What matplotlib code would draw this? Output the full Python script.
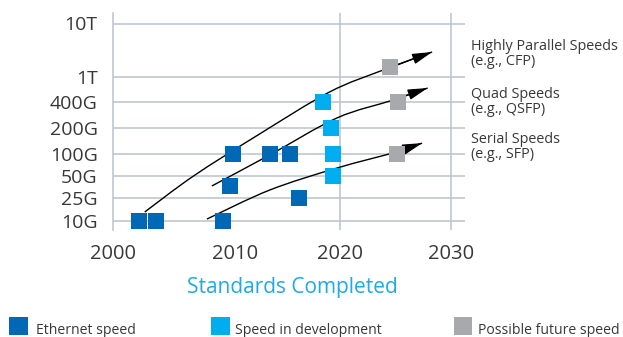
import numpy as np
import matplotlib
matplotlib.use('Agg')
import matplotlib.pyplot as plt
from matplotlib.patches import Rectangle, PathPatch
from matplotlib.path import Path

plt.rcParams['font.family'] = ['Open Sans', 'DejaVu Sans']

# ---------------- data ----------------
y_tick_labels = ['10G', '25G', '50G', '100G', '200G', '400G', '1T', '10T']
y_tick_values = [10, 25, 50, 100, 200, 400, 1000, 10000]          # Gb/s
x_tick_years = [2000, 2010, 2020, 2030]
x_grid_years = [2020, 2030]

eth_years = [2002.1, 2003.5, 2009.0, 2009.6, 2009.8, 2013.3, 2015.2, 2016.1]
eth_speeds = [10, 10, 10, 36, 100, 100, 100, 25]
dev_years = [2018.4, 2019.1, 2019.3, 2019.3]
dev_speeds = [400, 200, 100, 50]
fut_years = [2024.5, 2025.2, 2025.1]
fut_speeds = [1500, 400, 100]

trend_labels = [('Highly Parallel Speeds', '(e.g., CFP)'),
                ('Quad Speeds', '(e.g., QSFP)'),
                ('Serial Speeds', '(e.g., SFP)')]
trend_years = [[2002.6, 2006.6, 2012.2, 2019.0, 2023.9, 2028.3],
               [2008.1, 2013.3, 2019.7, 2024.8, 2027.9],
               [2007.7, 2013.3, 2019.7, 2025.1, 2027.4]]
trend_speeds = [[14.3, 50, 166, 574, 1337, 2911],
                [36.5, 96, 261, 430, 664],
                [10.8, 32.1, 64, 105, 133]]

legend_labels = ['Ethernet speed', 'Speed in development', 'Possible future speed']
x_label = 'Standards Completed'

# ---------------- styles / layout ----------------
c_eth = '#0068B4'
c_dev = '#00AEEF'
c_fut = '#A7A9AC'
c_grid = '#B9C3CA'
c_text = '#383838'
c_xlabel = '#1DAAE6'

# axis layout (non-uniform axis spacing as in the original graphic)
y_axis_pos = [0, 23, 45, 67.3, 93, 119, 144.3, 197.5]
x_axis_pos = [0, 122, 227, 338]


def make_map(xs, ys):
    xs = np.asarray(xs, float)
    ys = np.asarray(ys, float)

    def f(v):
        v = np.asarray(v, float)
        out = np.interp(v, xs, ys)
        lo_slope = (ys[1] - ys[0]) / (xs[1] - xs[0])
        hi_slope = (ys[-1] - ys[-2]) / (xs[-1] - xs[-2])
        out = np.where(v < xs[0], ys[0] + (v - xs[0]) * lo_slope, out)
        out = np.where(v > xs[-1], ys[-1] + (v - xs[-1]) * hi_slope, out)
        return out
    return f


logs = np.log10(y_tick_values)
_yf = make_map(logs, y_axis_pos)
_yi = make_map(y_axis_pos, logs)


def y_fwd(v):
    return _yf(np.log10(np.maximum(np.asarray(v, float), 1e-9)))


def y_inv(p):
    return 10 ** _yi(p)


x_fwd = make_map(x_tick_years, x_axis_pos)
x_inv = make_map(x_axis_pos, x_tick_years)

W, H = 623, 337
fig = plt.figure(figsize=(W / 100, H / 100), dpi=100)
ax = fig.add_axes([113 / W, 1 - 230 / H, (465 - 113) / W, (230 - 13) / H])

ax.set_xscale('function', functions=(x_fwd, x_inv))
ax.set_yscale('function', functions=(y_fwd, y_inv))
ax.set_xlim(2000, float(x_inv(352)))
ax.set_ylim(float(y_inv(-9)), float(y_inv(208)))

ax.set_yticks(y_tick_values)
ax.set_yticklabels(y_tick_labels)
ax.yaxis.set_minor_locator(matplotlib.ticker.NullLocator())
ax.set_xticks(x_tick_years)
ax.set_xticklabels([str(y) for y in x_tick_years])
ax.xaxis.set_minor_locator(matplotlib.ticker.NullLocator())
ax.tick_params(axis='y', length=0, pad=11, labelsize=14, labelcolor=c_text)
ax.tick_params(axis='x', length=0, pad=10, labelsize=14.5, labelcolor=c_text)

for s in ['top', 'right', 'bottom']:
    ax.spines[s].set_visible(False)
ax.spines['left'].set_color(c_grid)
ax.spines['left'].set_linewidth(1.1)

ax.set_axisbelow(True)
ax.yaxis.grid(True, color=c_grid, lw=1.1)
for yr in x_grid_years:
    ax.axvline(yr, color=c_grid, lw=1.1, zorder=0.5)


def smooth_path(pts):
    """Catmull-Rom curve through pts (axes coords) as cubic Bezier path."""
    pts = np.asarray(pts, float)
    n = len(pts)
    verts = [pts[0]]
    codes = [Path.MOVETO]
    for i in range(n - 1):
        p0 = pts[i - 1] if i > 0 else pts[i]
        p1 = pts[i]
        p2 = pts[i + 1]
        p3 = pts[i + 2] if i + 2 < n else pts[i + 1]
        c1 = p1 + (p2 - p0) / 6.0
        c2 = p2 - (p3 - p1) / 6.0
        verts += [c1, c2, p2]
        codes += [Path.CURVE4] * 3
    return Path(verts, codes)


to_axes = ax.transData + ax.transAxes.inverted()
for yrs, spd in zip(trend_years, trend_speeds):
    pts = to_axes.transform(np.column_stack([yrs, spd]))
    patch = PathPatch(smooth_path(pts), facecolor='none', edgecolor='black',
                      lw=1.0, transform=ax.transAxes, zorder=2, capstyle='butt')
    ax.add_patch(patch)
    ax.annotate('', xy=(yrs[-1], spd[-1]), xytext=(yrs[-2], spd[-2]),
                arrowprops=dict(arrowstyle='-|>,head_length=1.2,head_width=0.32',
                                mutation_scale=10, color='black', lw=1.0,
                                shrinkA=0, shrinkB=0), zorder=2)

ms = 117
ax.scatter(eth_years, eth_speeds, marker='s', s=ms, color=c_eth, linewidths=0, zorder=3)
ax.scatter(dev_years, dev_speeds, marker='s', s=ms, color=c_dev, linewidths=0, zorder=3)
ax.scatter(fut_years, fut_speeds, marker='s', s=ms, color=c_fut, linewidths=0, zorder=3)

# right-side labels
baselines = [(50, 65), (98, 113), (143, 158)]
for (l1, l2), (b1, b2) in zip(trend_labels, baselines):
    fig.text(471 / W, 1 - b1 / H, l1, fontsize=10.4, color=c_text, va='baseline', ha='left')
    fig.text(471 / W, 1 - b2 / H, l2, fontsize=10.4, color=c_text, va='baseline', ha='left')

# x label
fig.text(292.5 / W, 1 - 293 / H, x_label, fontsize=15, color=c_xlabel,
         va='baseline', ha='center')

# legend
leg_colors = [c_eth, c_dev, c_fut]
leg_box_x = [9, 211, 454]
leg_text_x = [36, 235, 478]
for lab, col, bx, tx in zip(legend_labels, leg_colors, leg_box_x, leg_text_x):
    fig.patches.append(Rectangle((bx / W, 1 - 334.5 / H), 18.5 / W, 18 / H,
                                 transform=fig.transFigure, color=col, lw=0))
    fig.text(tx / W, 1 - 334 / H, lab, fontsize=10.1, color=c_text,
             va='baseline', ha='left')

fig.savefig('out.png', dpi=100)
